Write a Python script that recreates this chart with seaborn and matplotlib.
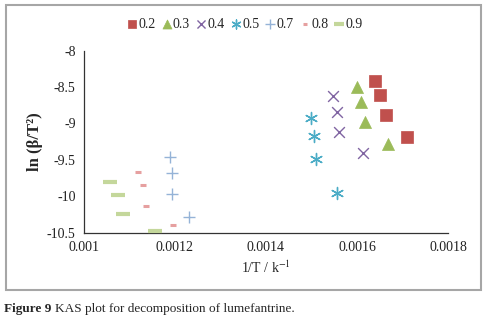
import matplotlib
matplotlib.use("Agg")
import matplotlib.pyplot as plt
from matplotlib.patches import Rectangle
import seaborn as sns

# KAS data: 1/T (K^-1) and ln(beta/T^2) for each conversion level
alpha_labels = ["0.2", "0.3", "0.4", "0.5", "0.7", "0.8", "0.9"]

x_02 = [0.001640, 0.001651, 0.001663, 0.001709]
y_02 = [-8.41, -8.61, -8.88, -9.19]
x_03 = [0.001600, 0.001609, 0.001618, 0.001669]
y_03 = [-8.50, -8.71, -8.98, -9.28]
x_04 = [0.001548, 0.001555, 0.001561, 0.001613]
y_04 = [-8.62, -8.84, -9.11, -9.40]
x_05 = [0.001500, 0.001505, 0.001509, 0.001555]
y_05 = [-8.93, -9.17, -9.49, -9.95]
x_07 = [0.001190, 0.001193, 0.001194, 0.001231]
y_07 = [-9.46, -9.68, -9.97, -10.28]
x_08 = [0.001119, 0.001129, 0.001136, 0.001196]
y_08 = [-9.66, -9.85, -10.13, -10.39]
x_09 = [0.001057, 0.001074, 0.001086, 0.001156]
y_09 = [-9.81, -9.98, -10.24, -10.48]

x_ticks = [0.001, 0.0012, 0.0014, 0.0016, 0.0018]
y_ticks = [-10.5, -10, -9.5, -9, -8.5, -8]

sns.set_style("white")
plt.rcParams["font.family"] = ["Liberation Serif", "DejaVu Serif"]
plt.rcParams["mathtext.fontset"] = "stix"
plt.rcParams["axes.unicode_minus"] = False

series = [
    (x_02, y_02, "s", "#C0504D", 70, 0.5),
    (x_03, y_03, "^", "#9BBB59", 75, 0.5),
    (x_04, y_04, "x", "#8064A2", 60, 1.0),
    (x_05, y_05, (6, 2, 0), "#4BACC6", 75, 1.0),
    (x_07, y_07, "+", "#95B3D7", 85, 1.0),
    (x_08, y_08, "_", "#E6A0A0", 22, 2.2),
    (x_09, y_09, "_", "#C4D79B", 90, 3.0),
]

fig = plt.figure(figsize=(4.89, 3.21), dpi=100)
ax = fig.add_axes([84 / 489, 1 - 232.7 / 321, 364 / 489, 182 / 321])

for label, (xs, ys, marker, color, size, lw) in zip(alpha_labels, series):
    sns.scatterplot(x=xs, y=ys, marker=marker, color=color, s=size,
                    linewidth=lw, edgecolor=color, label=label, ax=ax,
                    clip_on=False, zorder=3)

ax.set_xlim(x_ticks[0], x_ticks[-1])
ax.set_ylim(y_ticks[0], y_ticks[-1])
ax.set_xticks(x_ticks)
ax.set_xticklabels([f"{v:g}" for v in x_ticks])
ax.set_yticks(y_ticks)
ax.set_yticklabels([f"{v:g}" for v in y_ticks])
ax.tick_params(direction="out", length=4, width=0.8, labelsize=10,
               colors="#222222", pad=2)
for side in ["top", "right"]:
    ax.spines[side].set_visible(False)
for side in ["left", "bottom"]:
    ax.spines[side].set_color("#333333")
    ax.spines[side].set_linewidth(0.9)

ax.set_xlabel(r"1/T / k$^{-1}$", fontsize=10, va="center")
ax.xaxis.set_label_coords(0.5, -0.19)
ax.set_ylabel("ln (β/T²)", fontsize=12, fontweight="bold", va="center")
ax.yaxis.set_label_coords(-0.135, 0.5)

handles, labels = ax.get_legend_handles_labels()
ax.legend_.remove()
fig.legend(handles, labels, ncol=7, loc="center",
           bbox_to_anchor=(245 / 489, 1 - 24 / 321), frameon=False,
           fontsize=10, handlelength=0.7, handletextpad=0.1,
           columnspacing=0.45, markerscale=0.75, borderpad=0)

# chart area border and caption
fig.patches.append(Rectangle((6 / 489, 1 - 290 / 321), 475 / 489, 285 / 321,
                             transform=fig.transFigure, fill=False,
                             edgecolor="#a6a6a6", linewidth=1.5))
fig.text(4 / 489, 1 - 309 / 321, "Figure 9", fontsize=9.5,
         fontweight="bold", va="center")
fig.text(55 / 489, 1 - 309 / 321, "KAS plot for decomposition of lumefantrine.",
         fontsize=9.5, va="center")

fig.savefig("out.png", dpi=100)
